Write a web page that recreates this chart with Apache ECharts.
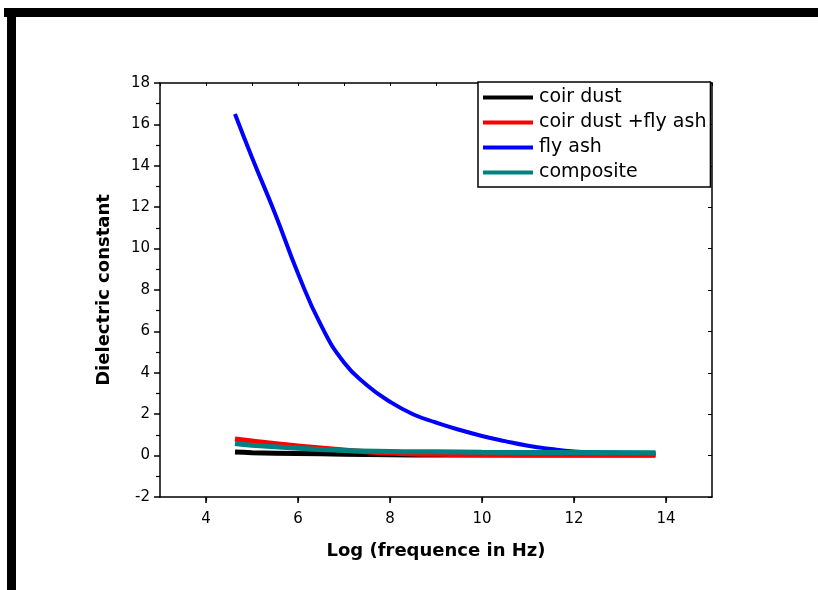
<!DOCTYPE html>
<html>
<head>
<meta charset="utf-8">
<script src="https://cdn.jsdelivr.net/npm/echarts@6/dist/echarts.min.js"></script>
<style>
html,body{margin:0;padding:0;background:#fff;}
#chart{width:818px;height:590px;}
</style>
</head>
<body>
<div id="chart"></div>
<script>
var seriesNames = ['coir dust', 'coir dust +fly ash', 'fly ash', 'composite'];
var seriesColors = ['#000000', '#ff0000', '#0000ff', '#008080'];

var xBlue = [4.63, 5.0, 5.5, 6.0, 6.5, 7.0, 7.5, 8.0, 8.5, 9.0, 9.5, 10.0, 10.5, 11.0, 11.5, 12.0, 12.5, 13.0, 13.77];
var yBlue = [16.5, 14.4, 11.7, 8.8, 6.3, 4.5, 3.4, 2.6, 2.0, 1.6, 1.25, 0.95, 0.7, 0.48, 0.32, 0.2, 0.15, 0.13, 0.12];

var xOther = [4.63, 5.0, 6.0, 7.0, 8.0, 9.0, 10.0, 12.0, 13.77];
var yCoir = [0.17, 0.14, 0.10, 0.07, 0.04, 0.03, 0.03, 0.03, 0.03];
var yCoirFly = [0.80, 0.70, 0.47, 0.27, 0.12, 0.06, 0.04, 0.03, 0.03];
var yComposite = [0.58, 0.50, 0.36, 0.25, 0.20, 0.18, 0.16, 0.15, 0.14];

var xTicks = [4, 6, 8, 10, 12, 14];

function pairs(xs, ys) { return xs.map(function (x, i) { return [x, ys[i]]; }); }

var FONT = '"DejaVu Sans", Arial, sans-serif';
var chart = echarts.init(document.getElementById('chart'));

function mkSeries(name, color, data, width) {
  return {
    name: name, type: 'line', data: data, smooth: 0.5,
    showSymbol: false, symbol: 'none',
    lineStyle: { color: color, width: width }, itemStyle: { color: color }, z: 3
  };
}

chart.setOption({
  backgroundColor: '#fff',
  animation: false,
  grid: { left: 160, right: 106, top: 83, bottom: 93, show: false },
  legend: {
    data: seriesNames,
    orient: 'vertical',
    left: 478, top: 82,
    icon: 'rect',
    itemWidth: 50, itemHeight: 4,
    itemGap: 4,
    padding: [5, 4, 4, 5],
    backgroundColor: '#fff',
    borderColor: '#000', borderWidth: 1.5,
    textStyle: { fontFamily: FONT, fontSize: 19, color: '#000', lineHeight: 21, padding: [0, 0, 0, 1] },
    z: 10
  },
  xAxis: [{
    type: 'value', min: 3, max: 15, interval: 2,
    position: 'bottom',
    name: 'Log (frequence in Hz)', nameLocation: 'middle', nameGap: 45,
    nameTextStyle: { fontFamily: FONT, fontSize: 18, fontWeight: 'bold', color: '#000' },
    axisLine: { show: true, onZero: false, lineStyle: { color: '#000', width: 1.5 } },
    axisTick: { show: true, inside: false, length: 6, lineStyle: { color: '#000', width: 1.5 },
      customValues: xTicks },
    minorTick: { show: true, splitNumber: 2, length: 4, lineStyle: { color: '#000', width: 1.2 } },
    axisLabel: { fontFamily: FONT, fontSize: 15, color: '#000', margin: 15, customValues: xTicks },
    splitLine: { show: false }
  }, {
    type: 'value', min: 3, max: 15, interval: 1,
    position: 'top',
    axisLine: { show: true, onZero: false, lineStyle: { color: '#000', width: 1.5 } },
    axisTick: { show: true, inside: true, length: 3, lineStyle: { color: '#000', width: 1 } },
    axisLabel: { show: false },
    splitLine: { show: false }
  }],
  yAxis: [{
    type: 'value', min: -2, max: 18, interval: 2,
    position: 'left',
    name: 'Dielectric constant', nameLocation: 'middle', nameGap: 47,
    nameTextStyle: { fontFamily: FONT, fontSize: 18, fontWeight: 'bold', color: '#000' },
    axisLine: { show: true, onZero: false, lineStyle: { color: '#000', width: 1.5 } },
    axisTick: { show: true, inside: false, length: 6, lineStyle: { color: '#000', width: 1.5 } },
    minorTick: { show: true, splitNumber: 2, length: 4, lineStyle: { color: '#000', width: 1.2 } },
    axisLabel: { fontFamily: FONT, fontSize: 15, color: '#000', margin: 10 },
    splitLine: { show: false }
  }, {
    type: 'value', min: -2, max: 18, interval: 2,
    position: 'right',
    axisLine: { show: true, onZero: false, lineStyle: { color: '#000', width: 1.5 } },
    axisTick: { show: true, inside: true, length: 4, lineStyle: { color: '#000', width: 1 } },
    axisLabel: { show: false },
    splitLine: { show: false }
  }],
  graphic: [
    { type: 'rect', shape: { x: 4, y: 8, width: 814, height: 9 }, style: { fill: '#000' }, z: 20 },
    { type: 'rect', shape: { x: 7, y: 8, width: 9, height: 582 }, style: { fill: '#000' }, z: 20 }
  ],
  series: [
    mkSeries(seriesNames[0], seriesColors[0], pairs(xOther, yCoir), 5),
    mkSeries(seriesNames[1], seriesColors[1], pairs(xOther, yCoirFly), 5),
    mkSeries(seriesNames[2], seriesColors[2], pairs(xBlue, yBlue), 4),
    mkSeries(seriesNames[3], seriesColors[3], pairs(xOther, yComposite), 5)
  ]
});
</script>
</body>
</html>
